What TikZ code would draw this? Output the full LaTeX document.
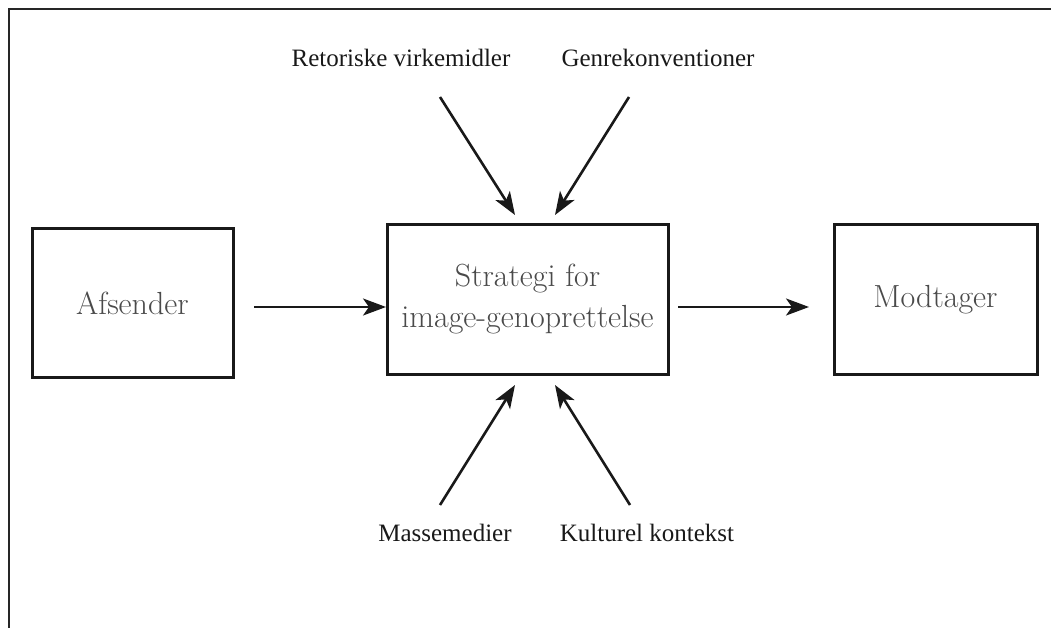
\documentclass[tikz,border=0pt]{standalone}
\usepackage{fontspec}
\newfontfamily\labfont{Liberation Serif}
\usetikzlibrary{arrows.meta}
\definecolor{boxtext}{HTML}{4a4a4a}
\tikzset{
  box/.style={draw=black!90, line width=3pt, text=boxtext, align=center,
    font=\fontsize{32}{41}\selectfont, inner sep=0pt},
  lab/.style={font=\labfont\fontsize{25}{30}\selectfont, text=black!90, inner sep=0pt},
  conn/.style={line width=2.6pt, draw=black!90, -{Stealth[length=23pt,width=17pt,inset=6pt]}},
  frame/.style={line width=2.4pt, draw=black!85}
}
\begin{document}
\begin{tikzpicture}[x=1pt,y=-1pt]
\useasboundingbox (0,0) rectangle (1051,628);
\draw[frame] (9,628) -- (9,9) -- (1051,9);
\node[box, minimum width=201pt, minimum height=148pt] (afs) at (132.5,303) {Afsender};
\node[box, minimum width=281pt, minimum height=149pt] (str) at (527.5,299.5) {Strategi for\\image-genoprettelse};
\node[box, minimum width=203pt, minimum height=149pt] (mod) at (935.5,299.5) {Modtager};
\node[lab] (ret) at (401,58) {Retoriske virkemidler};
\node[lab] (gen) at (658,58) {Genrekonventioner};
\node[lab] (mas) at (445,533) {Massemedier};
\node[lab] (kul) at (647,533) {Kulturel kontekst};
\coordinate (a1) at (254,307);
\coordinate (a2) at (386,307);
\coordinate (b1) at (678,307);
\coordinate (b2) at (809,307);
\coordinate (r1) at (440,97);
\coordinate (r2) at (515,215);
\coordinate (g1) at (629,97);
\coordinate (g2) at (555,215);
\coordinate (m1) at (440,505);
\coordinate (m2) at (515,385);
\coordinate (k1) at (630,505);
\coordinate (k2) at (555,385);
\draw[conn] (a1) -- (a2);
\draw[conn] (b1) -- (b2);
\draw[conn] (r1) -- (r2);
\draw[conn] (g1) -- (g2);
\draw[conn] (m1) -- (m2);
\draw[conn] (k1) -- (k2);
\end{tikzpicture}
\end{document}
